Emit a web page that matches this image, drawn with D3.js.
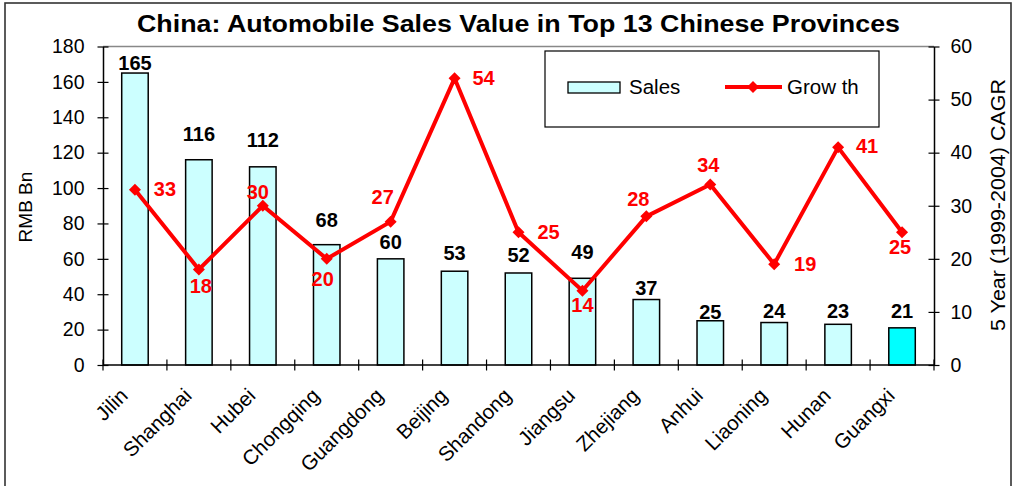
<!DOCTYPE html>
<html>
<head>
<meta charset="utf-8">
<script src="https://cdn.jsdelivr.net/npm/d3@7"></script>
<style>
  html, body { margin: 0; padding: 0; background: #fff; }
  svg { display: block; font-family: "Liberation Sans", Arial, sans-serif; }
</style>
</head>
<body>
<svg id="chart" width="1013" height="486"></svg>
<script>
// Provinces and their values
const categories = ["Jilin", "Shanghai", "Hubei", "Chongqing", "Guangdong", "Beijing",
  "Shandong", "Jiangsu", "Zhejiang", "Anhui", "Liaoning", "Hunan", "Guangxi"];
const sales = [165, 116, 112, 68, 60, 53, 52, 49, 37, 25, 24, 23, 21];          // RMB Bn
const growth = [33, 18, 30, 20, 27, 54, 25, 14, 28, 34, 19, 41, 25];            // 5-yr CAGR %
const salesTicks = [0, 20, 40, 60, 80, 100, 120, 140, 160, 180];
const growthTicks = [0, 10, 20, 30, 40, 50, 60];

// Label placement tweaks (pixels) so value labels clear the line
const salesLabelGap = [3, 19, 20, 18, 10, 11, 11, 19, 5, 2, 5, 6, 10];
const growthLabelShift = [[30, 6], [2, 24], [-5, -7], [-4, 27], [-8, -18], [29, 7], [30, 7],
  [0, 21], [-8, -10], [-2, -13], [31, 7], [29, 6], [-2, 22]];

const svg = d3.select("#chart");
const plotLeft = 103, plotRight = 934, plotTop = 46.5, plotBottom = 365;

const x = d3.scaleBand().domain(categories).range([plotLeft, plotRight]).paddingInner(0).paddingOuter(0);
const yL = d3.scaleLinear().domain([0, 180]).range([plotBottom, plotTop]);
const yR = d3.scaleLinear().domain([0, 60]).range([plotBottom, plotTop]);

// Outer chart frame
svg.append("rect").attr("x", 5).attr("y", 3).attr("width", 1006).attr("height", 500)
  .attr("fill", "none").attr("stroke", "#333").attr("stroke-width", 1.6);

// Plot area top edge
svg.append("line").attr("x1", plotLeft).attr("x2", plotRight).attr("y1", plotTop).attr("y2", plotTop)
  .attr("stroke", "#888").attr("stroke-width", 1.3);

// Title
svg.append("text").attr("x", 518.5).attr("y", 32).attr("text-anchor", "middle")
  .attr("font-size", 23).attr("font-weight", "bold").attr("fill", "#000")
  .attr("textLength", 763).attr("lengthAdjust", "spacingAndGlyphs")
  .text("China: Automobile Sales Value in Top 13 Chinese Provinces");

// Bars
const barW = 26.5;
svg.append("g").selectAll("rect").data(categories).join("rect")
  .attr("x", (d) => x(d) + x.bandwidth() / 2 - barW / 2)
  .attr("width", barW)
  .attr("y", (d, i) => yL(sales[i]))
  .attr("height", (d, i) => plotBottom - yL(sales[i]))
  .attr("fill", (d, i) => i === categories.length - 1 ? "#00FFFF" : "#CCFFFF")
  .attr("stroke", "#000").attr("stroke-width", 1.5);

// Axes
const tickStyle = (g) => {
  g.select(".domain").attr("stroke", "#000").attr("stroke-width", 1.5);
  g.selectAll(".tick line").attr("stroke", "#000").attr("stroke-width", 1.2);
  g.selectAll(".tick text").attr("font-size", 19.5).attr("fill", "#000")
    .attr("font-family", "Liberation Sans, Arial, sans-serif");
};

const axL = svg.append("g").attr("transform", `translate(${plotLeft},0)`)
  .call(d3.axisLeft(yL).tickValues(salesTicks).tickSizeInner(5.5).tickSizeOuter(0).tickPadding(13));
axL.call(tickStyle);
axL.selectAll(".tick line").attr("x2", -5.5).attr("x1", 5.5);

const axR = svg.append("g").attr("transform", `translate(${plotRight},0)`)
  .call(d3.axisRight(yR).tickValues(growthTicks).tickSizeInner(5.5).tickSizeOuter(0).tickPadding(11));
axR.call(tickStyle);
axR.selectAll(".tick line").attr("x1", -5.5).attr("x2", 5.5);

// Category axis with tick marks on band boundaries
const axB = svg.append("g").attr("transform", `translate(0,${plotBottom})`);
axB.append("line").attr("x1", plotLeft).attr("x2", plotRight).attr("y1", 0).attr("y2", 0)
  .attr("stroke", "#000").attr("stroke-width", 1.5);
const boundaries = categories.map((d) => x(d)).concat([plotRight]);
axB.selectAll("line.tk").data(boundaries).join("line").attr("class", "tk")
  .attr("x1", (d) => d).attr("x2", (d) => d).attr("y1", -5.5).attr("y2", 5.5)
  .attr("stroke", "#000").attr("stroke-width", 1.2);
axB.selectAll("text").data(categories).join("text")
  .attr("transform", (d) => `translate(${x(d) + x.bandwidth() / 2 - 6},${32}) rotate(-45)`)
  .attr("text-anchor", "end").attr("font-size", 20.5).attr("fill", "#000")
  .text((d) => d);

// Axis titles
svg.append("text").attr("transform", "translate(32,207) rotate(-90)")
  .attr("text-anchor", "middle").attr("font-size", 19).text("RMB Bn");
svg.append("text").attr("transform", "translate(1005,205) rotate(-90)")
  .attr("text-anchor", "middle").attr("font-size", 19.5)
  .attr("textLength", 252).attr("lengthAdjust", "spacingAndGlyphs")
  .text("5 Year (1999-2004) CAGR");

// Sales value labels
svg.append("g").selectAll("text").data(categories).join("text")
  .attr("x", (d) => x(d) + x.bandwidth() / 2)
  .attr("y", (d, i) => yL(sales[i]) - salesLabelGap[i])
  .attr("text-anchor", "middle").attr("font-size", 20).attr("font-weight", "bold")
  .attr("fill", "#000").text((d, i) => sales[i]);

// Growth line with diamond markers
const cx = (d) => x(d) + x.bandwidth() / 2;
const line = d3.line().x((d) => cx(d)).y((d, i) => yR(growth[i]));
svg.append("path").datum(categories).attr("d", line)
  .attr("fill", "none").attr("stroke", "#FF0000").attr("stroke-width", 4)
  .attr("stroke-linejoin", "miter");

const diamond = d3.symbol().type(d3.symbolDiamond2).size(92);
svg.append("g").selectAll("path").data(categories).join("path")
  .attr("transform", (d, i) => `translate(${cx(d)},${yR(growth[i])})`)
  .attr("d", diamond).attr("fill", "#FF0000");

svg.append("g").selectAll("text").data(categories).join("text")
  .attr("x", (d, i) => cx(d) + growthLabelShift[i][0])
  .attr("y", (d, i) => yR(growth[i]) + growthLabelShift[i][1])
  .attr("text-anchor", "middle").attr("font-size", 20).attr("font-weight", "bold")
  .attr("fill", "#FF0000").text((d, i) => growth[i]);

// Legend
const lg = svg.append("g");
lg.append("rect").attr("x", 545).attr("y", 51).attr("width", 334).attr("height", 76)
  .attr("fill", "#fff").attr("stroke", "#000").attr("stroke-width", 1.2);
lg.append("rect").attr("x", 568).attr("y", 82).attr("width", 52).attr("height", 11)
  .attr("fill", "#CCFFFF").attr("stroke", "#000").attr("stroke-width", 1.3);
lg.append("text").attr("x", 629).attr("y", 93.5).attr("font-size", 20.5).text("Sales");
lg.append("line").attr("x1", 725).attr("x2", 782).attr("y1", 87).attr("y2", 87)
  .attr("stroke", "#FF0000").attr("stroke-width", 4);
lg.append("path").attr("transform", "translate(753,87)").attr("d", diamond).attr("fill", "#FF0000");
lg.append("text").attr("x", 787).attr("y", 93.5).attr("font-size", 20.5).text("Grow th");
</script>
</body>
</html>
